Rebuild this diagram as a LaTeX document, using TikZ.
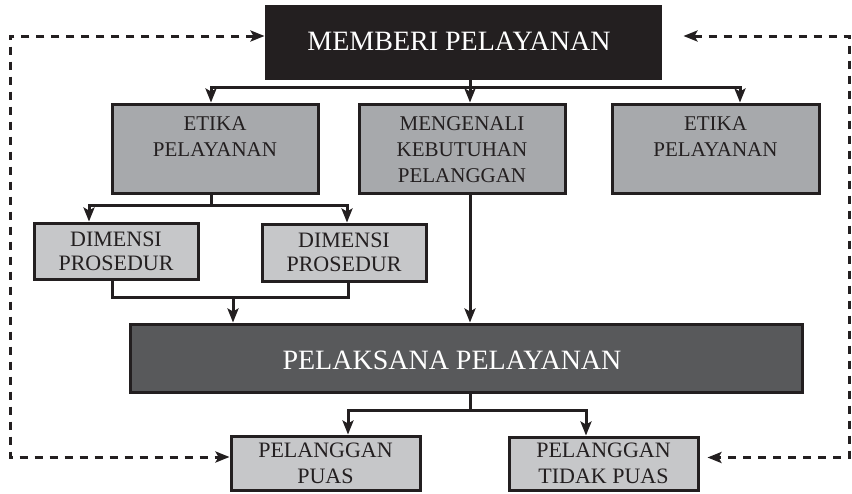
\documentclass[tikz,border=0pt]{standalone}
\usepackage{fontspec}
\setmainfont{Liberation Serif}
\usetikzlibrary{arrows.meta}
\definecolor{ink}{HTML}{231F20}
\definecolor{midgray}{HTML}{A7A9AC}
\definecolor{lightgray}{HTML}{C6C7C9}
\definecolor{darkgray}{HTML}{58595B}
\begin{document}
\begin{tikzpicture}[x=1pt, y=-1pt, line width=3pt, draw=ink,
  box/.style={draw=ink, line width=3pt, rectangle, inner sep=0pt, align=center},
  txt/.style={inner sep=0pt, align=center, text=ink},
  arr/.style={draw=ink, -{Stealth[length=14pt,width=11pt,inset=3pt]}},
  link/.style={draw=ink},
  dsh/.style={draw=ink, dash pattern=on 8pt off 7pt,
    {Stealth[length=14pt,width=11pt,inset=3pt]}-{Stealth[length=14pt,width=11pt,inset=3pt]}}]
\useasboundingbox (0,0) rectangle (852,493);

% boxes
\node[box, fill=ink, minimum width=394pt, minimum height=72pt] (top) at (463,42) {};
\node[txt, text=white, font=\fontsize{28}{30}\selectfont] (topt) at (459,41) {MEMBERI PELAYANAN};

\node[box, fill=midgray, minimum width=206pt, minimum height=89pt] (etikaL) at (215,148.5) {};
\node[box, fill=midgray, minimum width=206pt, minimum height=89pt] (kenal) at (462,148.5) {};
\node[box, fill=midgray, minimum width=207pt, minimum height=89pt] (etikaR) at (715.5,148.5) {};
\node[txt, anchor=north, font=\fontsize{21}{26}\selectfont] (etikaLt) at ([yshift=-13]etikaL.north) {ETIKA\\PELAYANAN};
\node[txt, anchor=north, font=\fontsize{21}{26}\selectfont] (kenalt) at ([yshift=-13]kenal.north) {MENGENALI\\KEBUTUHAN\\PELANGGAN};
\node[txt, anchor=north, font=\fontsize{21}{26}\selectfont] (etikaRt) at ([yshift=-13]etikaR.north) {ETIKA\\PELAYANAN};

\node[box, fill=lightgray, text=ink, minimum width=164pt, minimum height=56pt,
  font=\fontsize{22}{24}\selectfont] (dimL) at (116,251) {DIMENSI\\PROSEDUR};
\node[box, fill=lightgray, text=ink, minimum width=164pt, minimum height=57pt,
  font=\fontsize{22}{24}\selectfont] (dimR) at (344,252.5) {DIMENSI\\PROSEDUR};

\node[box, fill=darkgray, minimum width=672pt, minimum height=68pt] (exec) at (466,358) {};
\node[txt, text=white, font=\fontsize{28}{30}\selectfont] (exect) at (452,360) {PELAKSANA PELAYANAN};

\node[box, fill=lightgray, text=ink, minimum width=189pt, minimum height=54pt,
  font=\fontsize{22}{26}\selectfont] (puas) at (325.5,463) {PELANGGAN\\PUAS};
\node[box, fill=lightgray, text=ink, minimum width=189pt, minimum height=53pt,
  font=\fontsize{22}{26}\selectfont] (tidak) at (603.5,463.5) {PELANGGAN\\TIDAK PUAS};

% junction points
\coordinate (c1) at (470,87);
\coordinate (c2) at (211,205);
\coordinate (c3) at (233,297);
\coordinate (c4) at (470,410);
\coordinate (dl) at (10,36);
\coordinate (dr) at (849,36);
\coordinate (pw) at ([yshift=6]puas.west);
\coordinate (tw) at ([xshift=8,yshift=6]tidak.east);

% from the top box to the second row
\draw[link] (top.south -| c1) -- (c1);
\draw[arr] (c1) -| ([xshift=-4]etikaL.north);
\draw[arr] (c1) -- (kenal.north -| c1);
\draw[arr] (c1) -| ([xshift=24.5]etikaR.north);

% ethics to the two dimensions
\draw[link] (etikaL.south -| c2) -- (c2);
\draw[arr] (c2) -| ([xshift=-27]dimL.north);
\draw[arr] (c2) -| ([xshift=3]dimR.north);

% dimensions merge into execution
\draw[link] ([xshift=-4]dimL.south) |- (c3) -| ([xshift=4]dimR.south);
\draw[arr] (c3) -- (exec.north -| c3);

% needs to execution
\draw[arr] (kenal.south -| c1) -- (exec.north -| c1);

% execution to outcomes
\draw[link] (exec.south -| c4) -- (c4);
\draw[arr] (c4) -| ([xshift=22.5]puas.north);
\draw[arr] (c4) -| ([xshift=-17.5]tidak.north);

% feedback loops
\draw[dsh] (top.west |- dl) -- (dl) -- (dl |- pw) -- (pw);
\draw[dsh] ([xshift=22]top.east |- dr) -- (dr) -- (dr |- tw) -- (tw);
\end{tikzpicture}
\end{document}
